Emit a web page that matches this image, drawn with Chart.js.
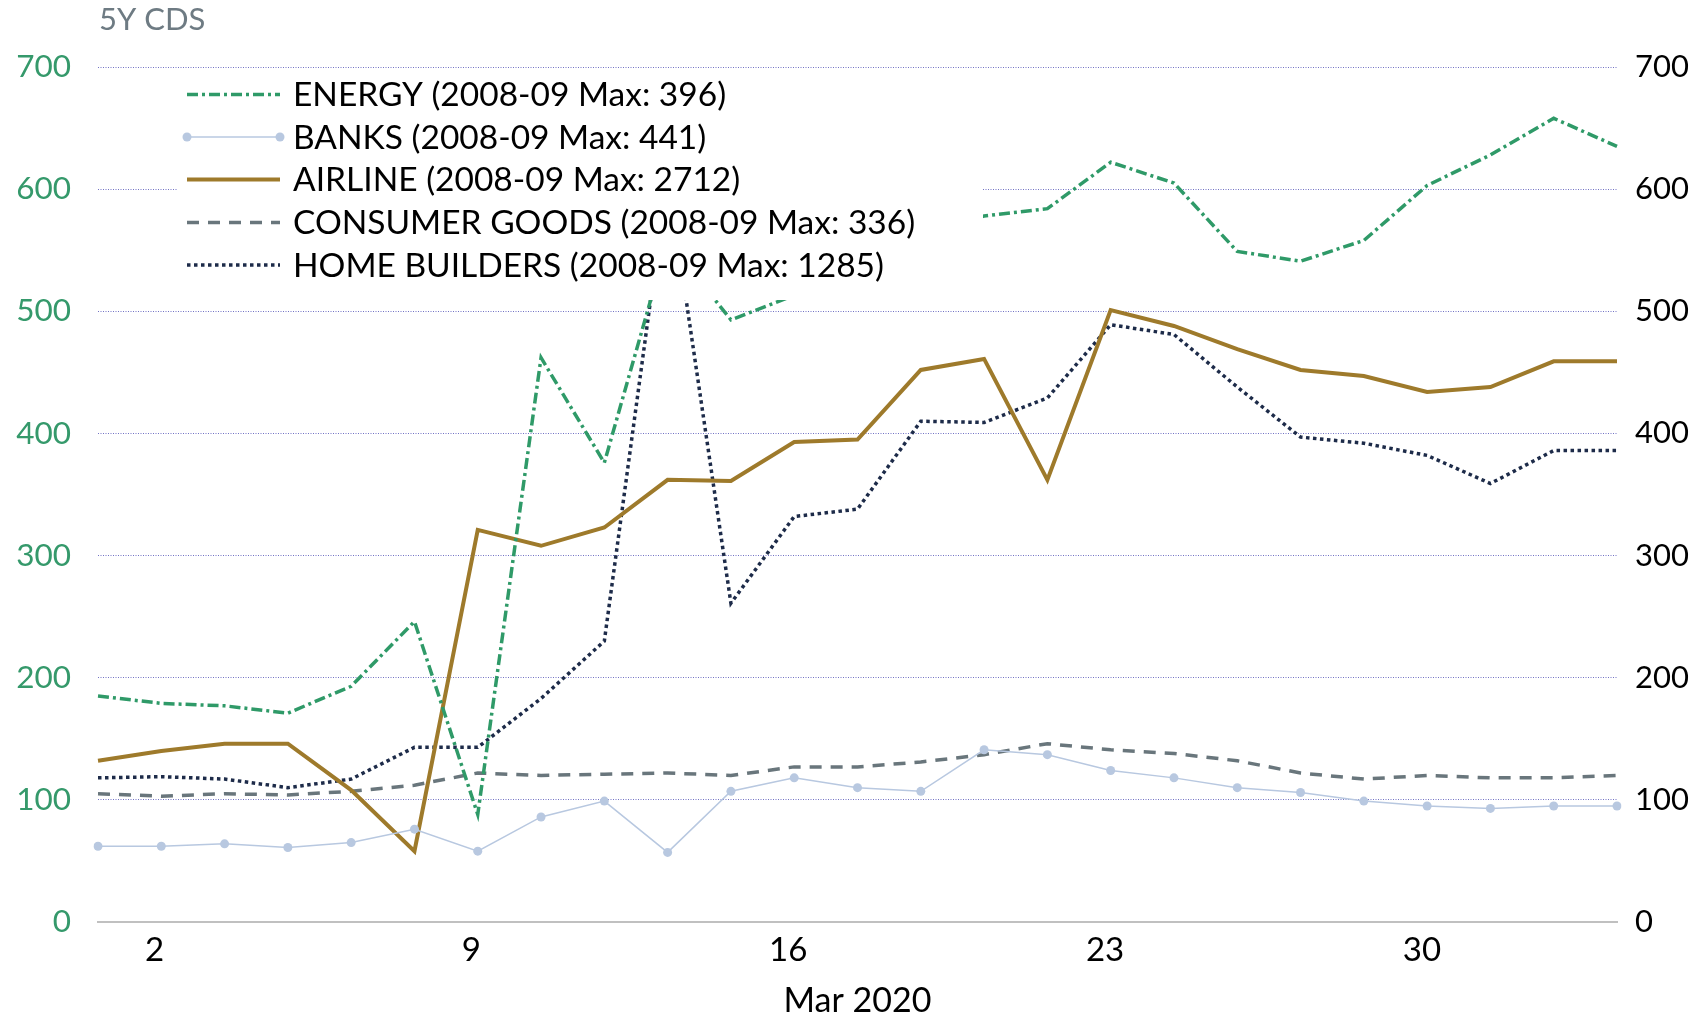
<!DOCTYPE html>
<html>
<head>
<meta charset="utf-8">
<script src="https://cdn.jsdelivr.net/npm/chart.js@4.4.1/dist/chart.umd.min.js"></script>
<style>
html,body{margin:0;padding:0;background:#fff;}
#wrap{width:1703px;height:1015px;position:relative;}
</style>
</head>
<body>
<div id="wrap"><canvas id="c" width="1703" height="1015"></canvas></div>
<script>
// ---- data ----
const tradingDays = ['2020-03-02','2020-03-03','2020-03-04','2020-03-05','2020-03-06',
  '2020-03-09','2020-03-10','2020-03-11','2020-03-12','2020-03-13',
  '2020-03-16','2020-03-17','2020-03-18','2020-03-19','2020-03-20',
  '2020-03-23','2020-03-24','2020-03-25','2020-03-26','2020-03-27',
  '2020-03-30','2020-03-31','2020-04-01','2020-04-02','2020-04-03'];
const energy   = [185,179,177,171,193,246, 88,462,376,558,493,513,545,565,578,584,622,605,549,541,558,603,628,658,635];
const banks    = [ 62, 62, 64, 61, 65, 76, 58, 86, 99, 57,107,118,110,107,141,137,124,118,110,106, 99, 95, 93, 95, 95];
const airline  = [132,140,146,146,108, 58,321,308,323,362,361,393,395,452,461,362,501,488,469,452,447,434,438,459,459];
const consumer = [105,103,105,104,107,112,122,120,121,122,120,127,127,131,137,146,141,138,132,122,117,120,118,118,120];
const homeBuilders = [118,119,117,110,117,143,143,183,230,612,261,332,338,410,409,429,489,481,438,397,392,382,359,386,386];
const seriesNames = ['ENERGY (2008-09 Max: 396)','BANKS (2008-09 Max: 441)','AIRLINE (2008-09 Max: 2712)',
  'CONSUMER GOODS (2008-09 Max: 336)','HOME BUILDERS (2008-09 Max: 1285)'];
const dateTickDays = [2, 9, 16, 23, 30];
const dateAxisRange = [0.75, 34.31];
const yTitle = '5Y CDS';
const xTitle = 'Mar 2020';

const FONT = 'Lato';

const legendPlugin = {
  id: 'insideLegend',
  afterDatasetsDraw(chart) {
    const {ctx, chartArea} = chart;
    const L = chartArea.left, T = chartArea.top;
    ctx.save();
    ctx.fillStyle = '#ffffff';
    ctx.fillRect(L + 80, T + 3, 805, 230);
    const rowY = [27.5, 70, 112.5, 155.5, 198];
    chart.data.datasets.forEach((ds, i) => {
      const y = T + rowY[i];
      const x1 = L + 89, x2 = L + 182;
      ctx.strokeStyle = ds.borderColor;
      ctx.lineWidth = ds.borderWidth;
      ctx.setLineDash(ds.borderDash || []);
      ctx.lineCap = 'butt';
      ctx.beginPath(); ctx.moveTo(x1, y); ctx.lineTo(x2, y); ctx.stroke();
      ctx.setLineDash([]);
      if (ds.pointRadius > 0) {
        ctx.fillStyle = ds.pointBackgroundColor;
        [x1, x2].forEach(px => { ctx.beginPath(); ctx.arc(px, y, ds.pointRadius, 0, Math.PI*2); ctx.fill(); });
      }
      ctx.fillStyle = '#000';
      ctx.font = '33.5px ' + FONT;
      ctx.textBaseline = 'middle';
      ctx.textAlign = 'left';
      ctx.fillText(ds.label, L + 195, y + 1);
    });
    ctx.restore();
  },
  afterDraw(chart) {
    const {ctx, chartArea} = chart;
    ctx.save();
    ctx.fillStyle = '#6e7b83';
    ctx.font = '31px ' + FONT;
    ctx.textBaseline = 'alphabetic';
    ctx.textAlign = 'left';
    ctx.fillText(yTitle, chartArea.left + 1, 30);
    ctx.restore();
  }
};

new Chart(document.getElementById('c'), {
  type: 'line',
  data: {
    labels: tradingDays,
    datasets: [
      {label: seriesNames[0], data: energy, borderColor: '#2f9a68', borderWidth: 3.5, borderDash: [11,4,3,4], pointRadius: 0},
      {label: seriesNames[1], data: banks, borderColor: '#b8c8e0', borderWidth: 1.5, pointRadius: 4.5, pointBackgroundColor: '#b8c8e0', pointBorderWidth: 0},
      {label: seriesNames[2], data: airline, borderColor: '#9e7a2b', borderWidth: 4, pointRadius: 0},
      {label: seriesNames[3], data: consumer, borderColor: '#69767c', borderWidth: 3.5, borderDash: [12,9], pointRadius: 0},
      {label: seriesNames[4], data: homeBuilders, borderColor: '#1d2b49', borderWidth: 3.5, borderDash: [3.5,3.5], pointRadius: 0}
    ]
  },
  options: {
    responsive: false,
    animation: false,
    devicePixelRatio: 1,
    layout: {padding: {top: 67, left: 0, right: 0, bottom: 0}},
    plugins: {legend: {display: false}, tooltip: {enabled: false}},
    elements: {line: {tension: 0, borderCapStyle: 'butt', borderJoinStyle: 'miter'}},
    scales: {
      x: {type: 'category', display: false},
      xDates: {
        type: 'linear', position: 'bottom',
        min: dateAxisRange[0], max: dateAxisRange[1],
        afterBuildTicks: s => { s.ticks = dateTickDays.map(v => ({value: v})); },
        ticks: {autoSkip: false, maxRotation: 0, color: '#000', padding: 9,
          font: {family: FONT, size: 33}, callback: v => String(v)},
        grid: {display: false, drawTicks: false},
        border: {display: true, color: '#c0c0c0', width: 2, dash: []},
        title: {display: true, text: xTitle, color: '#000', font: {family: FONT, size: 34, lineHeight: 1}, padding: {top: 0, bottom: -3}},
        afterFit: s => { s.height = 93; }
      },
      y: {
        position: 'left', min: 0, max: 700,
        ticks: {stepSize: 100, color: '#35996b', padding: 27, font: {family: FONT, size: 31.5}},
        grid: {drawTicks: false, lineWidth: 1, color: c => (c.tick && c.tick.value === 0) ? 'rgba(0,0,0,0)' : '#7272c4'},
        border: {display: false, dash: [1, 1.5]},
        afterFit: s => { s.width = 98; }
      },
      y2: {
        position: 'right', min: 0, max: 700,
        ticks: {stepSize: 100, color: '#000', padding: 18, font: {family: FONT, size: 31}},
        grid: {display: false, drawTicks: false},
        border: {display: false},
        afterFit: s => { s.width = 86; }
      }
    }
  },
  plugins: [legendPlugin]
});
</script>
</body>
</html>
